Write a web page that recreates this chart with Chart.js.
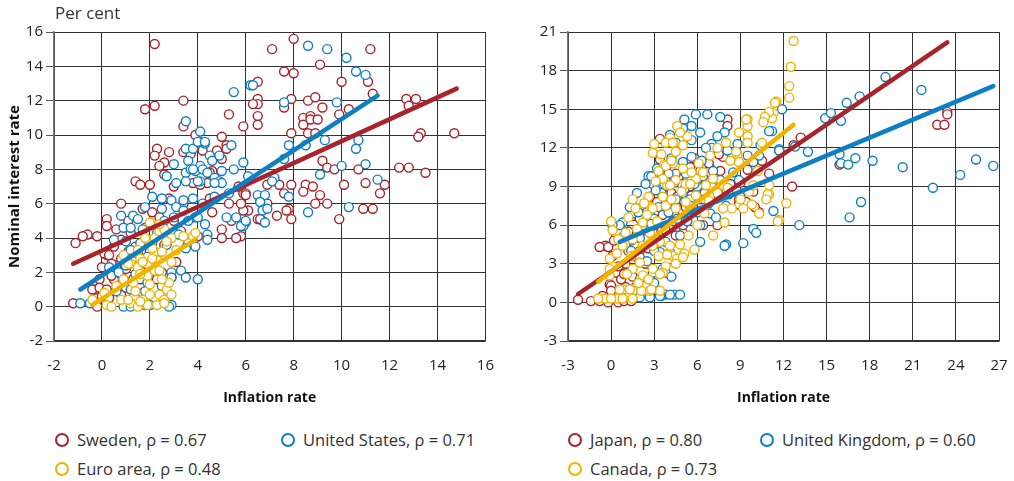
<!DOCTYPE html>
<html>
<head>
<meta charset="utf-8">
<script src="https://cdn.jsdelivr.net/npm/chart.js@4.4.1/dist/chart.umd.min.js"></script>
<style>
  body { margin: 0; background: #fff; font-family: "Open Sans", sans-serif; color: #222; }
  #page { position: relative; width: 1014px; height: 481px; overflow: hidden; }
  .panel { position: absolute; top: 0; }
  .unit { position: absolute; left: 55px; top: 1px; font-size: 17px; color: #333; }
  .leg { position: absolute; font-size: 16.5px; color: #333; white-space: nowrap; line-height: 20px; }
  .leg i { position: absolute; left: -22px; top: 3px; width: 10px; height: 10px; border-radius: 50%; border: 2px solid; background: #fff; }
</style>
</head>
<body>
<div id="page">
  <div class="panel" style="left:0"><canvas id="left" width="500" height="410"></canvas></div>
  <div class="panel" style="left:507px"><canvas id="right" width="507" height="410"></canvas></div>
  <div class="unit">Per cent</div>
  <div id="legends"></div>
</div>
<script>
// tick labels
const leftXTicks = [-2, 0, 2, 4, 6, 8, 10, 12, 14, 16];
const leftYTicks = [-2, 0, 2, 4, 6, 8, 10, 12, 14, 16];
const rightXTicks = [-3, 0, 3, 6, 9, 12, 15, 18, 21, 24, 27];
const rightYTicks = [-3, 0, 3, 6, 9, 12, 15, 18, 21];

const leftLabels = ['Sweden, ρ = 0.67', 'United States, ρ = 0.71', 'Euro area, ρ = 0.48'];
const rightLabels = ['Japan, ρ = 0.80', 'United Kingdom, ρ = 0.60', 'Canada, ρ = 0.73'];

// [inflation, interest] pairs
const sweden = [
  [2.2,15.3],[1.8,11.5],[2.2,11.7],[3.4,12.0],[3.4,10.5],[3.9,10.0],[5.3,11.2],[6.5,13.1],[5.9,10.5],[6.5,11.1],[6.5,12.1],[6.5,11.8],[6.3,11.8],[6.5,10.6],
  [2.3,9.2],[2.2,8.8],[2.8,9.0],[2.6,8.4],[2.4,8.2],[2.6,7.7],[3.4,9.0],[3.7,8.9],[4.2,9.1],[5.0,9.9],[5.2,9.4],[5.2,9.2],[5.0,8.6],[4.8,9.1],[1.4,7.3],[1.6,7.1],[2.0,7.1],[3.0,7.0],[3.8,7.2],[4.4,7.2],[4.6,7.9],[5.9,6.6],[6.0,6.6],[5.7,7.0],[4.1,7.1],
  [8.0,15.6],[7.1,15.0],[11.2,15.0],[9.1,14.1],[7.6,13.7],[8.0,13.6],[10.0,13.1],[11.1,13.1],[11.3,12.4],[7.9,12.1],[8.6,12.0],[8.9,12.2],[9.2,11.6],[7.6,11.6],[8.4,11.0],[8.7,11.1],[8.7,10.9],[9.0,10.9],[8.4,10.6],[8.6,10.1],[8.9,10.1],[7.9,10.1],[9.9,11.2],[10.3,11.5],
  [12.7,12.1],[13.1,12.1],[12.8,11.7],[13.3,10.1],[13.2,9.9],[14.7,10.1],[9.2,8.5],[9.4,8.1],[9.7,8.0],[10.7,8.0],[12.4,8.1],[12.8,8.1],[13.5,7.8],[11.0,7.2],[11.8,7.1],[11.6,6.6],[10.1,7.1],[10.9,5.7],[11.3,5.7],[9.9,5.1],
  [8.5,7.1],[8.8,7.0],[8.4,6.7],[9.1,6.5],[8.9,6.0],[9.4,6.0],[7.9,7.1],[7.4,7.1],[6.9,7.1],[7.6,6.6],[7.8,5.7],[7.7,5.6],[7.3,5.3],[7.9,5.1],[6.0,6.5],[6.5,5.1],[6.1,5.6],[5.9,5.6],[6.9,6.0],[6.7,5.0],[5.8,4.1],
  [4.5,7.8],[4.5,6.3],[5.3,6.0],[5.8,6.0],[6.6,5.1],[5.0,4.5],[5.0,4.0],[5.6,4.0],[0.2,5.1],[0.6,4.5],[-0.2,4.1],[0.2,3.0],[0.6,2.4],[0.8,2.8],[1.4,3.5],[1.7,5.7],[2.1,5.5],[2.4,5.2],[3.9,5.2],[4.0,4.1],[3.8,3.8],[-0.3,1.0],[0.0,0.6],[0.5,1.6],[-0.1,1.6],
  [-1.1,3.7],[-0.6,4.2],[0.2,4.7],[0.8,6.0],[0.8,3.9],[0.1,3.1],[0.0,2.3],[0.3,3.0],[0.4,1.8],[0.8,1.9],[0.9,1.6],[1.3,1.6],[1.6,1.6],[2.0,1.4],[2.3,1.6],[2.9,1.7],[-0.4,1.0],[-0.1,1.1],[0.2,1.0],[0.8,0.7],[-1.2,0.2],[-0.2,0.0],[1.5,3.1],[2.0,3.2],[1.1,3.2],[2.3,2.7],[2.7,1.8],[-0.8,4.1],
  [0.4,2.5],[1.0,2.2],[1.2,4.3],[1.8,4.6],[2.6,3.6],[3.0,5.0],[3.4,6.0],[2.8,6.3],[1.1,5.0],[0.5,3.5],[1.6,2.1],[2.5,2.0],[3.1,2.6],[4.6,5.5],[5.4,5.0],[3.3,4.4],[0.3,0.5],[1.0,1.1],[1.7,0.8]
];
const unitedStates = [
  [6.2,12.9],[5.5,12.5],[3.5,10.8],[4.1,10.2],[3.5,9.2],[3.8,9.2],[4.1,9.6],[4.3,9.5],[5.4,9.4],[4.5,8.8],[4.6,8.5],[4.9,8.8],[3.6,8.5],[5.9,8.4],[3.5,7.8],[3.7,8.0],[3.9,7.9],[4.1,8.2],[4.2,8.0],[4.4,7.8],[5.0,7.9],[4.7,7.5],[4.9,7.3],[5.0,7.2],[4.1,7.3],[3.5,7.3],[3.1,7.2],[2.1,6.4],[2.5,6.3],
  [8.6,15.2],[9.4,15.0],[10.2,14.5],[10.6,13.7],[11.0,13.5],[6.3,12.9],[7.6,11.9],[9.8,11.9],[7.8,9.4],[8.5,9.4],[9.3,9.7],[10.7,9.7],[10.6,9.2],[7.6,8.6],[10.0,8.2],[11.0,8.3],[9.1,7.7],[11.5,7.4],[7.2,7.5],[7.1,7.3],[6.5,6.5],[6.8,6.5],[6.6,6.1],[7.8,6.4],[6.8,5.7],[6.7,5.6],[8.6,5.5],[10.3,5.8],[6.0,4.9],[6.8,4.9],[5.9,4.7],
  [4.0,9.6],[4.3,9.6],[3.8,8.0],[4.0,7.3],[4.7,7.2],[6.9,5.7],[2.9,6.2],[3.4,6.2],[3.8,6.3],[1.8,5.8],[1.3,5.3],[0.8,5.3],[0.9,4.6],[1.5,5.1],[2.5,5.7],[3.1,5.8],[3.4,5.6],[4.0,5.2],[4.3,4.8],[4.4,4.2],[5.2,5.2],[5.6,5.2],[5.8,4.7],[6.0,5.0],
  [2.1,3.7],[1.6,3.7],[1.2,3.3],[3.2,4.2],[3.6,3.7],[4.4,3.9],[1.0,2.4],[1.5,2.4],[1.9,2.9],[1.4,1.9],[1.9,1.4],[2.9,2.0],[3.3,2.1],[4.0,1.6],[2.9,1.7],[1.8,0.9],[0.7,2.0],[0.3,2.3],[2.9,0.1],[1.8,0.1],
  [-0.9,0.2],[-0.5,0.2],[0.9,0.0],[1.2,0.0],[2.0,0.1],[2.8,0.0],[3.5,1.7],[3.5,3.4],[3.9,3.5],
  [1.0,3.8],[1.7,4.5],[2.3,4.3],[2.7,3.6],[2.6,5.0],[3.0,5.2],[3.6,5.0],[4.2,6.0],[4.7,6.4],[5.3,6.6],[1.2,4.6],[0.5,3.9],[2.0,2.0],[2.5,1.2],[1.2,1.0],[0.6,0.9],[3.0,8.3],[2.7,7.6],[5.5,8.0],[6.1,7.6]
];
const euroArea = [
  [-0.4,0.4],[0.1,0.8],[0.2,0.1],[0.4,0.0],[0.8,0.4],[1.2,0.2],[1.5,0.0],[1.7,0.4],[1.9,0.1],[2.0,0.7],[2.3,0.1],[2.4,0.7],[2.6,0.4],[2.7,1.0],[2.9,0.7],[2.6,0.2],
  [0.9,1.6],[1.2,2.5],[1.5,2.3],[1.6,2.8],[1.9,2.5],[1.9,1.8],[2.2,2.1],[2.4,2.1],[2.3,2.7],[2.2,3.2],[2.5,3.2],[2.1,3.4],[1.9,3.9],[2.2,4.0],[2.0,4.9],[2.4,4.4],[2.6,4.5],
  [0.9,3.0],[2.9,4.0],[3.4,4.1],[3.8,4.1],[3.9,4.3],[1.7,2.6],[2.8,1.4],[2.4,4.8],[1.8,4.0],[1.5,3.3],[1.1,2.5],[1.1,0.4],[1.6,0.3],
  [0.6,1.2],[1.3,1.4],[1.4,0.9],[2.0,1.3],[2.5,1.6],[2.9,2.6],[3.1,3.3],[2.7,3.8],[1.6,1.9],[2.1,2.8]
];
const japan = [
  [23.4,14.8],[23.4,14.6],[22.7,13.8],[23.2,13.8],[13.2,12.8],[15.9,10.7],[12.6,9.0],
  [3.4,12.7],[8.1,14.2],[8.1,13.7],[7.7,11.4],[3.4,11.1],[12.7,12.2],[11.7,11.8],[7.8,11.3],[3.6,10.4],[6.9,10.4],[7.3,9.6],[5.7,9.1],[4.8,8.0],[2.7,8.2],[2.0,7.3],[1.5,6.7],[8.9,8.0],[9.4,7.8],[9.9,8.6],[7.4,6.0],[5.0,5.4],[4.5,5.2],
  [-0.4,4.4],[0.1,3.6],[0.4,2.3],[-0.1,1.4],[-0.6,0.5],[0.2,0.5],[-2.3,0.2],[-1.4,0.1],[-0.8,0.1],[-0.2,0.0],[0.5,0.0],[0.9,0.1],[1.4,0.1],[-0.8,4.3],[-0.2,4.3],[0.2,4.8],[0.0,1.3],[0.0,0.9],
  [3.1,7.5],[5.0,7.0],[6.4,6.0],[8.9,7.6],[10.3,7.0],[1.0,3.0],[1.5,2.0],[2.0,4.0],[2.5,5.0],[3.0,6.0],[3.5,5.5],[4.0,7.0],[4.5,7.5],[5.0,8.0],[5.5,9.0],[6.0,9.5],[6.5,8.5],[7.0,10.0],
  [2.0,6.5],[3.0,4.5],[4.0,9.0],[5.0,6.0],[6.0,11.0],[1.2,5.5],[2.8,9.8],[3.8,10.5],[4.2,8.5],[5.8,7.2],[6.2,10.2],[7.2,9.0],[0.5,2.8],[1.8,3.5],[2.2,1.5],[3.2,7.8],[4.8,6.5],[5.5,10.5],[6.8,7.8],[7.5,11.5],[8.5,9.5],[9.5,10.3],[10.5,11.0],[8.0,8.8],[1.0,1.2],[1.6,0.6],[2.4,3.0],[3.6,6.8],[4.4,9.6],[5.2,7.4],[0.7,1.8],
  [1.2,4.0],[2.4,6.0],[3.3,8.8],[4.6,8.2],[5.3,9.6],[6.6,9.3],[7.0,8.2],[2.6,4.2],[3.8,5.6],[4.3,6.3],[5.6,8.3],[6.2,8.0],[1.7,1.2],[0.9,2.2],[2.9,9.2],[3.9,7.6],[4.9,9.2],[6.8,10.8],[7.6,10.2],[8.3,9.2],[9.0,9.3],[10.0,7.4],[11.0,10.0],[1.4,4.8],[3.5,9.8],[4.5,10.0],[5.8,11.2]
];
const unitedKingdom = [
  [19.1,17.5],[21.6,16.5],[17.3,16.0],[16.4,15.5],[11.9,15.0],[14.9,14.3],[15.3,14.7],[16.0,14.1],[11.2,13.3],[11.7,11.9],[12.8,12.1],[13.7,11.7],[15.9,11.5],[16.0,10.8],[16.5,10.7],[17.0,11.2],[18.2,11.0],[20.3,10.5],[25.4,11.1],[26.6,10.6],[24.3,9.9],[22.4,8.9],[17.4,7.8],[16.6,6.6],[13.1,6.0],
  [6.7,14.6],[5.9,14.6],[7.6,14.4],[5.1,14.2],[5.6,13.7],[5.0,13.5],[7.9,13.2],[4.5,12.4],[7.0,12.3],[7.0,12.0],[8.1,11.8],[5.6,11.3],[5.0,10.9],[11.0,13.3],[2.6,9.8],[2.8,9.8],[3.3,9.4],[6.3,11.0],[7.1,10.2],[8.5,10.1],[8.9,9.5],[9.9,10.9],[10.3,11.4],[11.7,11.8],
  [5.2,10.0],[5.5,8.0],[6.9,6.9],[6.2,6.0],[8.0,4.5],[9.2,4.6],[9.9,5.7],[11.3,7.1],[1.5,7.5],[1.5,6.9],[0.8,6.2],[0.6,6.0],[2.2,6.0],[2.7,5.4],[3.8,4.7],[4.8,5.2],[4.1,3.9],[3.6,2.6],[3.8,2.3],[2.0,1.8],[2.4,1.3],
  [3.8,0.6],[4.4,0.6],[4.8,0.6],[3.5,0.5],[4.1,0.6],[3.4,0.5],[2.7,0.4],[2.0,0.4],[7.9,4.4],[10.1,5.4],[6.2,4.7],[0.1,6.0],[1.3,7.4],[3.4,3.9],[2.9,2.3],
  [2.0,5.0],[3.0,6.5],[4.0,7.0],[4.5,8.0],[5.0,8.5],[6.0,9.0],[6.5,8.0],[7.0,9.0],[3.5,8.5],[4.0,10.0],[2.5,7.0],[1.0,4.5],[2.0,3.5],[3.0,4.0],[5.5,7.5],[6.0,7.0],[7.5,8.2],[8.0,7.5],[9.0,8.2],[4.2,11.2],[3.2,10.4],[1.8,8.5],[2.4,9.2],
  [3.1,8.7],[3.7,9.2],[4.4,9.3],[5.1,8.8],[5.8,9.2],[6.4,9.8],[7.6,9.5],[8.2,8.4],[3.3,7.4],[2.8,6.1],[4.6,6.5],[5.3,6.3],[6.8,7.7],[7.3,6.6],[1.9,7.0],[0.9,5.2],[1.4,4.0],[2.5,3.2],[3.0,1.5],[4.2,2.0],[5.6,12.6],[6.2,13.2],[4.1,13.0],[6.6,12.0],[7.4,12.9],[8.8,12.3],[9.5,11.4],[10.4,12.2]
];
const canada = [
  [12.7,20.3],[12.5,18.3],[12.4,16.8],[12.4,15.9],[11.5,15.6],[11.3,14.7],[11.2,14.3],[11.0,9.1],[11.0,8.4],[12.2,7.7],[11.7,6.4],
  [11.0,14.8],[10.7,14.4],[10.6,14.0],[9.5,14.2],[9.5,13.7],[4.6,13.7],[4.1,12.8],[3.8,12.4],[5.3,12.9],[5.0,12.2],[9.5,12.9],[9.5,12.4],[8.8,11.5],[8.9,10.9],[3.7,10.7],[4.3,10.8],[6.4,10.1],[5.9,9.6],[5.2,9.2],[4.5,9.5],[3.9,9.1],[3.6,9.6],
  [10.9,8.4],[10.8,8.0],[9.6,8.6],[9.9,9.1],[7.8,9.1],[8.4,7.3],[1.5,8.0],[1.7,7.3],[2.8,7.4],
  [0.0,6.3],[0.1,5.6],[0.8,4.4],[1.4,3.6],[2.0,3.1],[1.5,2.6],[1.1,2.2],[0.1,2.8],[-0.1,2.1],[0.9,1.0],[1.5,0.9],[2.1,0.9],[2.7,0.9],[3.4,0.9],[1.3,0.5],[0.5,0.3],[-0.4,0.3],
  [2.2,2.1],[2.9,2.6],[3.3,3.6],[3.8,2.8],[3.6,2.3],[4.3,3.6],[4.6,3.4],[5.1,3.8],[3.4,4.7],[2.9,4.4],[4.1,4.4],[2.2,4.4],[1.5,4.9],[2.7,5.4],[2.2,6.2],[2.9,7.3],[3.8,7.5],[4.5,7.3],[5.2,7.8],[5.9,8.3],[6.6,9.1],[7.1,9.6],
  [4.1,9.1],[3.8,10.6],[4.2,11.0],[4.5,11.7],[4.3,12.4],[4.8,13.2],[8.7,11.7],[7.8,7.3],[9.2,7.3],[7.9,6.2],[7.1,5.2],[10.3,6.9],[11.6,6.3],[9.4,14.2],[11.4,15.5],[5.0,10.4],[5.5,9.2],
  [-0.1,3.4],[-0.1,2.6],[-0.9,0.3],[0.0,0.3],[0.8,0.3],[1.5,0.3],[5.8,4.1],[5.0,3.5],[4.5,3.0],[3.4,2.2],[0.6,1.0],[1.3,1.0],[2.8,1.0],
  [1.0,5.4],[1.8,5.7],[2.5,6.8],[3.2,6.3],[3.6,8.2],[4.2,8.0],[4.9,8.6],[5.6,10.1],[6.1,10.8],[6.9,11.4],[7.4,12.0],[8.0,12.4],[8.3,11.0],[3.1,9.4],[2.6,8.2],[3.3,10.2],[2.9,11.6],[3.5,11.5],[3.0,12.3],[2.3,7.7],[1.2,6.6],[0.5,4.9],[0.4,3.8],[1.9,1.5],[2.6,1.8],[3.9,3.7],[4.8,4.5],[5.4,5.2],[6.0,6.0],[6.5,6.9],[6.8,7.9],[7.4,8.5],[8.1,8.9],[9.0,8.0],[9.8,7.6],[10.2,10.2],[10.5,12.4],[8.9,13.2]
];

// fitted line end points
const swedenFit = [[-1.2,2.5],[14.8,12.7]];
const usFit = [[-0.9,1.0],[11.5,12.3]];
const euroFit = [[-0.4,0.1],[3.9,3.9]];
const japanFit = [[-2.3,0.65],[23.4,20.2]];
const ukFit = [[0.6,4.7],[26.6,16.8]];
const canadaFit = [[-0.9,1.6],[12.7,13.8]];

const RED = '#a8232a', BLUE = '#0d7fc4', YELLOW = '#f2b300';
const FONT = '"Open Sans", sans-serif';

const toXY = arr => arr.map(p => ({ x: p[0], y: p[1] }));

function scatter(data, color, order) {
  return {
    type: 'scatter', data: toXY(data), order: order,
    pointRadius: 4.5, pointBorderWidth: 1.4,
    pointBorderColor: color, pointBackgroundColor: '#fff'
  };
}
function fit(data, color, order) {
  return {
    type: 'line', data: toXY(data), order: order,
    borderColor: color, borderWidth: 4.5, borderCapStyle: 'round',
    pointRadius: 0, fill: false
  };
}

function axes(xt, yt, yWidth, yTitle) {
  const setTicks = list => s => { s.ticks = list.map(v => ({ value: v })); };
  return {
    x: {
      type: 'linear', min: xt[0], max: xt[xt.length - 1],
      afterBuildTicks: setTicks(xt),
      afterFit: s => { s.height = 69; },
      // invisible tick marks just push the labels down
      grid: { color: '#333', lineWidth: 1, drawTicks: true, tickLength: 10, tickColor: 'rgba(0,0,0,0)' },
      border: { color: '#333', width: 1.5 },
      ticks: { color: '#222', font: { family: FONT, size: 15 }, padding: 6, maxRotation: 0 },
      title: { display: true, text: 'Inflation rate', color: '#111', font: { family: FONT, size: 14, weight: 'bold' }, padding: { top: 0, bottom: 4 } }
    },
    y: {
      type: 'linear', min: yt[0], max: yt[yt.length - 1],
      afterBuildTicks: setTicks(yt),
      afterFit: s => { s.width = yWidth; },
      grid: { color: '#333', lineWidth: 1, tickLength: 8, tickColor: '#555' },
      border: { color: '#777', width: 1.5 },
      ticks: { color: '#222', font: { family: FONT, size: 15 }, padding: 3 },
      title: { display: !!yTitle, text: yTitle || '', color: '#111', font: { family: FONT, size: 15, weight: 'bold' }, padding: { top: 6, bottom: 0 } }
    }
  };
}

function makeChart(id, datasets, xt, yt, yWidth, yTitle, padRight) {
  return new Chart(document.getElementById(id), {
    data: { datasets: datasets },
    options: {
      responsive: false, animation: false,
      layout: { padding: { top: 32, right: padRight, left: 0, bottom: 0 } },
      plugins: { legend: { display: false }, tooltip: { enabled: false } },
      scales: axes(xt, yt, yWidth, yTitle)
    }
  });
}

makeChart('left', [
  fit(usFit, BLUE, 0), fit(swedenFit, RED, 1), fit(euroFit, YELLOW, 2),
  scatter(euroArea, YELLOW, 3), scatter(unitedStates, BLUE, 4), scatter(sweden, RED, 5)
], leftXTicks, leftYTicks, 54, 'Nominal interest rate', 14);

makeChart('right', [
  fit(canadaFit, YELLOW, 0), fit(japanFit, RED, 1), fit(ukFit, BLUE, 2),
  scatter(canada, YELLOW, 3), scatter(unitedKingdom, BLUE, 4), scatter(japan, RED, 5)
], rightXTicks, rightYTicks, 61, null, 15);

// legends
const legendSpots = [
  [leftLabels, [RED, BLUE, YELLOW], [[77, 430], [303, 430], [77, 459]]],
  [rightLabels, [RED, BLUE, YELLOW], [[590, 430], [782, 430], [590, 459]]]
];
const host = document.getElementById('legends');
legendSpots.forEach(([labels, colors, spots]) => {
  labels.forEach((txt, i) => {
    const d = document.createElement('div');
    d.className = 'leg';
    d.style.left = spots[i][0] + 'px';
    d.style.top = spots[i][1] + 'px';
    d.innerHTML = '<i style="border-color:' + colors[i] + '"></i>' + txt;
    host.appendChild(d);
  });
});
</script>
</body>
</html>
